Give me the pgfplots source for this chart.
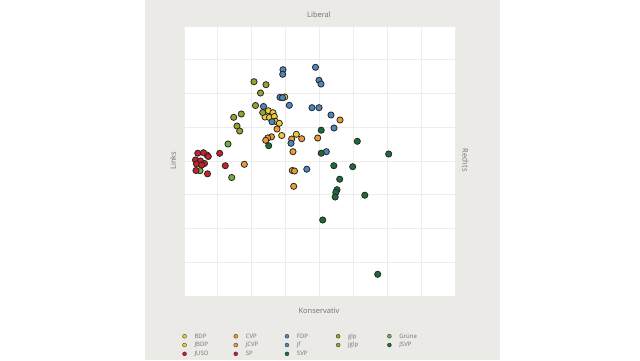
\documentclass[border=0pt]{standalone}
\usepackage{pgfplots}
\pgfplotsset{compat=1.18}
\usepackage{fontspec}
\setmainfont{Open Sans}
\definecolor{panel}{HTML}{ECEAE6}
\definecolor{gridc}{HTML}{ECECEA}
\definecolor{labc}{HTML}{707070}
\definecolor{outl}{HTML}{262626}
\definecolor{cyel}{HTML}{EFCB38}
\definecolor{cora}{HTML}{EE9B34}
\definecolor{cblu}{HTML}{4C87BF}
\definecolor{coli}{HTML}{9AA22E}
\definecolor{cgrn}{HTML}{6DB33F}
\definecolor{cdgr}{HTML}{1E6B3A}
\definecolor{cred}{HTML}{C8202A}
\pgfplotsset{
  pt/.style={only marks, mark=*, mark size=3.1pt, line width=0.8pt,
    mark options={fill=#1, draw=outl}},
}
\newcommand{\legent}[1]{\addlegendentry{\makebox[37.7pt][l]{#1}}}
\begin{document}
\begin{tikzpicture}[x=1pt,y=1pt]
\fill[white] (0,0) rectangle (640,360);
\fill[panel] (145,0) rectangle (500,360);
\node[font=\fontsize{7.5}{9}\selectfont, text=labc] at (319,345) {Liberal};
\node[font=\fontsize{7.5}{9}\selectfont, text=labc] at (319,49) {Konservativ};
\node[font=\fontsize{7.5}{9}\selectfont, text=labc, rotate=90] at (173,199.5) {Links};
\node[font=\fontsize{7.5}{9}\selectfont, text=labc, rotate=-90] at (465.5,200) {Rechts};
\begin{axis}[
  at={(184pt,64pt)}, anchor=south west, scale only axis,
  width=271pt, height=270pt,
  xmin=184, xmax=455, ymin=26, ymax=296, y dir=reverse,
  axis background/.style={fill=white},
  axis line style={draw=none}, tick style={draw=none},
  xticklabels={}, yticklabels={},
  xtick={184,217.875,251.75,285.625,319.5,353.375,387.25,421.125,455},
  ytick={26,59.75,93.5,127.25,161,194.75,228.5,262.25,296},
  grid=major, major grid style={gridc, line width=0.8pt},
  clip=false,
  legend columns=5, legend cell align=left,
  legend image code/.code={\draw[#1, mark size=2pt, line width=0.3pt] plot coordinates {(0pt,0pt)};},
  legend style={at={(axis description cs:-0.006,-0.132)}, anchor=north west,
    draw=none, fill=none, inner sep=0pt, row sep=0pt,
    /tikz/every odd column/.style={column sep=6.5pt},
    /tikz/every even column/.style={column sep=0pt},
    nodes={inner sep=1.5pt, text height=4.8pt, text depth=1pt,
      font=\fontsize{6}{7}\selectfont, text=labc}},
]
% row 1: BDP, CVP, FDP, glp, Gruene
\addplot[pt=cyel] coordinates {(284.7,97) (268.3,110.7) (273,112.7) (265,117) (269.5,117.5) (274.3,116.5) (275.3,121.3) (279.3,123.3)};
\legent{BDP}
\addplot[pt=cora] coordinates {(277,129) (271.5,136.8) (267.7,138) (265.7,140.3) (291.7,139) (301.7,138.7) (317.7,138) (293,151.7) (292.3,170.5) (294.5,171)};
\legent{CVP}
\addplot[pt=cblu] coordinates {(319,80.3) (321,84) (280,97.3) (282.5,97.7) (289.3,105.3) (263.5,106.5) (312,107.7) (319,107.7) (331,115) (334,128) (272,121.7) (291,143.3) (326.3,151.7) (306.8,169.2)};
\legent{FDP}
\addplot[pt=coli] coordinates {(260.5,93) (255.5,105.5) (262.7,112.5) (241.3,114) (233.7,117.3) (237,126) (239.7,131)};
\legent{glp}
\addplot[pt=cgrn] coordinates {(228,144) (231.7,177.5) (207,155) (200,170.7)};
\legent{Grüne}
% row 2: JBDP, JCVP, jf, jglp, JSVP
\addplot[pt=cyel] coordinates {(281.7,135.5) (296.3,134.3)};
\legent{JBDP}
\addplot[pt=cora] coordinates {(244.3,164.3) (293.7,186.3) (340,120)};
\legent{JCVP}
\addplot[pt=cblu] coordinates {(283,69.7) (282.7,74.3) (315.5,67.3)};
\legent{jf}
\addplot[pt=coli] coordinates {(254,81.7) (266,84.7)};
\legent{jglp}
\addplot[pt=cdgr] coordinates {(388.7,154) (322.7,220) (377.7,274.3)};
\legent{JSVP}
% row 3: JUSO, SP, SVP
\addplot[pt=cred] coordinates {(197.8,153.2) (203.5,152.7) (208.3,156.5) (195.5,160) (200.5,161) (204.5,163.5) (196.5,164) (201.7,165) (196,170.5) (207.5,173.8)};
\legent{JUSO}
\addplot[pt=cred] coordinates {(219.7,153.3) (225.3,165.7)};
\legent{SP}
\addplot[pt=cdgr] coordinates {(268.7,145.7) (321.2,130.2) (357.3,141.3) (321.2,153.2) (333.8,165.7) (352.7,166.7) (339.7,179.2) (337,189.7) (335.8,192.5) (335.2,197) (364.8,195.2)};
\legent{SVP}
\end{axis}
\end{tikzpicture}
\end{document}
